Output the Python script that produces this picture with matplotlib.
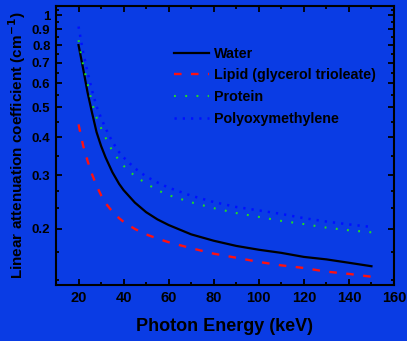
import matplotlib
matplotlib.use("Agg")
import matplotlib.pyplot as plt
from matplotlib.ticker import FixedLocator, NullFormatter

plt.rcParams['font.family'] = ['Liberation Sans', 'DejaVu Sans']
plt.rcParams['font.weight'] = 'bold'

energy = [20, 22, 24, 26, 28, 30, 32, 35, 38, 40, 45, 50, 55, 60, 70, 80, 90, 100, 110, 120, 130, 140, 150]
water = [0.80, 0.672, 0.56, 0.48, 0.415, 0.374, 0.343, 0.307, 0.281, 0.268, 0.244, 0.227, 0.215, 0.206,
         0.192, 0.183, 0.176, 0.171, 0.167, 0.162, 0.159, 0.155, 0.151]
lipid = [0.44, 0.376, 0.334, 0.302, 0.277, 0.258, 0.243, 0.228, 0.217, 0.211, 0.200, 0.192, 0.186, 0.181,
         0.173, 0.166, 0.161, 0.156, 0.152, 0.149, 0.145, 0.1425, 0.1395]
protein = [0.83, 0.69, 0.60, 0.517, 0.463, 0.428, 0.398, 0.360, 0.335, 0.322, 0.298, 0.282, 0.268, 0.258,
           0.2445, 0.234, 0.2255, 0.219, 0.2125, 0.2075, 0.202, 0.198, 0.195]
pom = [0.92, 0.76, 0.652, 0.568, 0.504, 0.462, 0.427, 0.386, 0.357, 0.343, 0.316, 0.297, 0.284, 0.273,
       0.257, 0.245, 0.236, 0.230, 0.224, 0.217, 0.2115, 0.207, 0.203]

yticks = [0.2, 0.3, 0.4, 0.5, 0.6, 0.7, 0.8, 0.9, 1.0]
ytick_labels = ['0.2', '0.3', '0.4', '0.5', '0.6', '0.7', '0.8', '0.9', '1']
xticks = [20, 40, 60, 80, 100, 120, 140, 160]

bg = '#0a3ce4'
fig = plt.figure(figsize=(4.07, 3.41), dpi=100, facecolor=bg)
ax = fig.add_axes([0.1376, 0.164, 0.8304, 0.818], facecolor=bg)

ax.plot(energy, water, color='black', lw=1.6, label='Water')
ax.plot(energy, lipid, color='#ff1010', lw=1.7, dashes=(3.2, 4.0), label='Lipid (glycerol trioleate)')
ax.plot(energy, protein, color='#22dd22', lw=1.5, dashes=(0.9, 4.5), label='Protein')
ax.plot(energy, pom, color='#0010ff', lw=1.8, dashes=(0.9, 2.4), label='Polyoxymethylene')

ax.set_yscale('log')
ax.set_xlim(10, 160)
ax.set_ylim(0.131, 1.073)
ax.yaxis.set_major_locator(FixedLocator(yticks))
ax.set_yticklabels(ytick_labels)
ax.yaxis.set_minor_locator(FixedLocator([0.136, 0.168, 0.234, 0.266, 0.346, 0.447, 0.548, 0.648,
                                         0.748, 0.849, 0.949, 1.04]))
ax.yaxis.set_minor_formatter(NullFormatter())
ax.set_xticks(xticks)
ax.set_xticks([10, 30, 50, 70, 90, 110, 130, 150], minor=True)

ax.tick_params(which='both', direction='in', top=True, right=True, width=1.3)
ax.tick_params(which='major', length=4)
ax.tick_params(which='minor', length=2)
ax.tick_params(axis='x', labelsize=10.5, pad=4)
ax.tick_params(axis='y', labelsize=9.5, pad=4)
for s in ax.spines.values():
    s.set_linewidth(1.5)

ax.set_xlabel('Photon Energy (keV)', fontsize=13, fontweight='bold')
ax.xaxis.set_label_coords(0.5, -0.118)
ax.set_ylabel('Linear attenuation coefficient (cm$^{\\mathbf{-1}}$)', fontsize=11, fontweight='bold')
ax.yaxis.set_label_coords(-0.083, 0.5)

ax.legend(loc='upper left', bbox_to_anchor=(0.31, 0.9), frameon=False,
          handlelength=2.45, handletextpad=0.35, labelspacing=0.53,
          prop={'weight': 'bold', 'size': 10.3})

fig.savefig('out.png', dpi=100, facecolor=bg)
